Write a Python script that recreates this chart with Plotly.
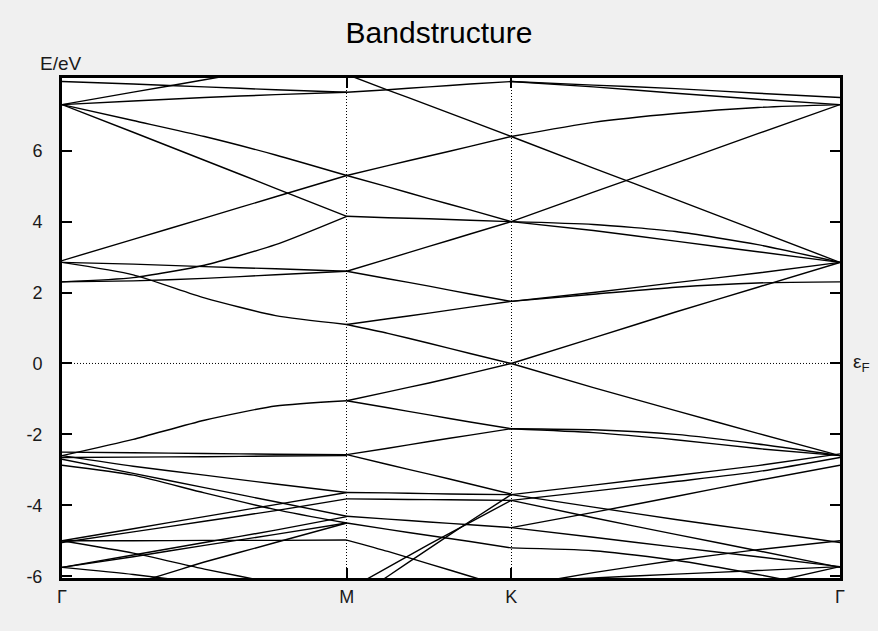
import plotly.graph_objects as go

# High-symmetry path (hexagonal BZ): Γ - M - K - Γ
k_nodes = [0.0, 1.0, 1.5774, 2.7321]
k_labels = ["Γ", "M", "K", "Γ"]
e_ticks = [-6, -4, -2, 0, 2, 4, 6]
e_tick_text = ["-6", "-4", "-2", "0", "2", "4", "6"]
frac = [0.0, 0.25, 0.5, 0.75, 1.0]

# Energies (eV) sampled at frac positions along each path segment
gm_bands = [
    [7.30, 6.85, 6.40, 5.88, 5.30],
    [7.30, 6.52, 5.73, 4.94, 4.15],
    [2.90, 3.50, 4.10, 4.70, 5.30],
    [2.30, 2.42, 2.77, 3.35, 4.15],
    [2.85, 2.80, 2.73, 2.67, 2.60],
    [2.30, 2.33, 2.40, 2.50, 2.60],
    [2.85, 2.50, 1.85, 1.35, 1.10],
    [7.30, 7.40, 7.50, 7.58, 7.65],
    [7.30, 7.65, 8.00, 8.35, 8.70],
    [7.95, 7.88, 7.80, 7.72, 7.65],
    [-2.60, -2.14, -1.60, -1.20, -1.05],
    [-2.50, -2.52, -2.54, -2.56, -2.57],
    [-2.65, -2.64, -2.63, -2.61, -2.60],
    [-2.60, -2.90, -3.15, -3.40, -3.64],
    [-2.87, -3.15, -3.65, -4.12, -4.50],
    [-2.70, -3.10, -3.50, -3.90, -4.31],
    [-5.00, -4.66, -4.32, -3.98, -3.64],
    [-5.05, -4.75, -4.45, -4.15, -3.82],
    [-5.00, -5.00, -4.99, -4.99, -4.98],
    [-5.75, -5.40, -5.05, -4.70, -4.32],
    [-5.75, -5.45, -5.13, -4.82, -4.50],
    [-5.75, -5.95, -6.20, -6.45, -6.70],
    [-5.00, -5.35, -5.80, -6.20, -6.60],
    [-6.50, -6.20, -5.60, -5.05, -4.50],
]
mk_bands = [
    [7.65, 7.72, 7.80, 7.88, 7.95],
    [5.30, 5.58, 5.85, 6.12, 6.40],
    [8.15, 7.71, 7.28, 6.84, 6.40],
    [5.30, 4.98, 4.65, 4.33, 4.00],
    [4.15, 4.11, 4.08, 4.04, 4.00],
    [2.60, 2.95, 3.30, 3.65, 4.00],
    [2.60, 2.39, 2.18, 1.96, 1.75],
    [1.10, 1.26, 1.42, 1.59, 1.75],
    [1.10, 0.85, 0.57, 0.28, 0.00],
    [-1.05, -0.80, -0.55, -0.28, 0.00],
    [-1.05, -1.25, -1.45, -1.65, -1.84],
    [-2.57, -2.39, -2.20, -2.02, -1.84],
    [-2.57, -2.85, -3.12, -3.40, -3.68],
    [-3.64, -3.65, -3.67, -3.69, -3.70],
    [-3.82, -3.83, -3.84, -3.85, -3.86],
    [-4.31, -4.39, -4.47, -4.55, -4.63],
    [-4.50, -4.68, -4.85, -5.02, -5.20],
    [-4.98, -5.30, -5.65, -6.00, -6.35],
    [-6.40, -5.75, -5.10, -4.48, -3.86],
    [-6.80, -6.00, -5.22, -4.45, -3.70],
]
kg_bands = [
    [6.40, 6.80, 7.05, 7.22, 7.30],
    [6.40, 5.51, 4.63, 3.74, 2.85],
    [4.00, 4.83, 5.65, 6.48, 7.30],
    [4.00, 3.92, 3.72, 3.35, 2.85],
    [4.00, 3.75, 3.45, 3.15, 2.85],
    [1.75, 2.00, 2.28, 2.55, 2.85],
    [1.75, 1.95, 2.15, 2.27, 2.30],
    [0.00, 0.72, 1.45, 2.15, 2.85],
    [7.95, 7.85, 7.75, 7.62, 7.50],
    [7.95, 7.80, 7.62, 7.45, 7.30],
    [0.00, -0.68, -1.33, -1.97, -2.60],
    [-1.84, -1.87, -2.00, -2.27, -2.60],
    [-1.84, -1.95, -2.15, -2.40, -2.60],
    [-3.70, -3.43, -3.16, -2.88, -2.55],
    [-3.86, -3.60, -3.33, -3.05, -2.65],
    [-4.63, -4.20, -3.75, -3.30, -2.87],
    [-3.70, -4.05, -4.40, -4.72, -5.05],
    [-3.86, -4.35, -4.82, -5.28, -5.75],
    [-4.63, -4.90, -5.18, -5.45, -5.73],
    [-5.20, -5.28, -5.55, -5.95, -6.40],
    [-6.30, -5.90, -5.55, -5.25, -5.00],
    [-6.15, -6.05, -5.94, -5.84, -5.73],
    [-7.90, -7.35, -6.80, -6.25, -5.73],
]

fig = go.Figure()
segments = [(k_nodes[0], k_nodes[1], gm_bands),
            (k_nodes[1], k_nodes[2], mk_bands),
            (k_nodes[2], k_nodes[3], kg_bands)]
for k0, k1, bands in segments:
    xs = [k0 + f * (k1 - k0) for f in frac]
    for e in bands:
        fig.add_trace(go.Scatter(x=xs, y=e, mode="lines",
                                 line=dict(color="black", width=1.4, shape="spline", smoothing=0.6),
                                 hoverinfo="skip", showlegend=False))

# Fermi level
fig.add_shape(type="line", xref="paper", x0=0, x1=1, yref="y", y0=0, y1=0,
              line=dict(color="black", width=1, dash="1px,2px"), layer="below")

txt = "#1a1a1a"
fig.update_layout(
    width=878, height=631,
    margin=dict(l=62, r=38, t=78, b=53),
    paper_bgcolor="#f0f0f0", plot_bgcolor="white",
    font=dict(family="Liberation Sans, Arial, sans-serif", size=18, color=txt),
    title=dict(text="Bandstructure", x=0.5, xanchor="center", y=0.949, yanchor="middle",
               font=dict(size=30, color="black")),
    showlegend=False,
)
fig.update_xaxes(range=[k_nodes[0], k_nodes[-1]], tickvals=k_nodes, ticktext=k_labels,
                 showgrid=True, griddash="1px,2px", gridcolor="black", gridwidth=1,
                 ticks="inside", ticklen=10, tickcolor="black", tickwidth=2,
                 showline=True, linecolor="black", linewidth=3, mirror="allticks",
                 zeroline=False, ticklabelstandoff=0, tickfont=dict(size=18))
fig.update_yaxes(range=[-6.05, 8.05], tickvals=e_ticks, ticktext=e_tick_text,
                 showgrid=False, ticks="inside", ticklen=10, tickcolor="black", tickwidth=2,
                 showline=True, linecolor="black", linewidth=3, mirror="allticks",
                 zeroline=False, ticklabelstandoff=13, tickfont=dict(size=18))

fig.add_annotation(text="E/eV", xref="paper", yref="paper", x=-0.031, y=1.0, yshift=15,
                   xanchor="left", yanchor="middle", showarrow=False, font=dict(size=19, color=txt))
fig.add_annotation(text="ε<sub>F</sub>", xref="paper", yref="y", x=1.0, y=0, xshift=11,
                   xanchor="left", yanchor="middle", showarrow=False, font=dict(size=19, color=txt))

fig.write_html("out.html")
